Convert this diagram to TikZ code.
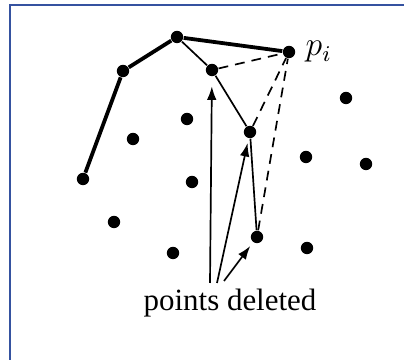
\documentclass[tikz,border=0pt]{standalone}
\usepackage{fontspec}
\setmainfont{Liberation Serif}
\usetikzlibrary{arrows.meta}
\definecolor{framecol}{HTML}{3552A0}
\begin{document}
\begin{tikzpicture}[
    x=0.0125cm, y=-0.0125cm,
    pt/.style={circle, fill=black, inner sep=0pt, minimum size=0.155cm},
    hull/.style={line width=1.35pt},
    thinedge/.style={line width=0.6pt},
    dashedge/.style={line width=0.6pt, dash pattern=on 3.5pt off 2.5pt},
    arr/.style={-{Latex[length=4.8pt,width=3.4pt]}, line width=0.6pt},
    lbl/.style={font=\fontsize{11}{13}\selectfont}
]
\useasboundingbox (0,0) rectangle (404,360);
\draw[framecol, line width=0.8pt] (10,360) -- (10,5) -- (404,5);

% hull chain
\node[pt] (A)  at (83,179)  {};
\node[pt] (B)  at (123,71)  {};
\node[pt] (C)  at (177,37)  {};
\node[pt] (D)  at (212,70)  {};
\node[pt] (E)  at (250,132) {};
\node[pt] (F)  at (257,237) {};
\node[pt] (P)  at (289,52)  {};
\node[lbl, anchor=west, font=\fontsize{12}{14}\selectfont] (Plbl) at (P.east) {$p_i$};

% other points
\node[pt] (q1) at (187,119) {};
\node[pt] (q2) at (133,139) {};
\node[pt] (q3) at (192,182) {};
\node[pt] (q4) at (114,222) {};
\node[pt] (q5) at (173,253) {};
\node[pt] (q6) at (346,98)  {};
\node[pt] (q7) at (306,157) {};
\node[pt] (q8) at (366,164) {};
\node[pt] (q9) at (307,248) {};

\draw[hull] (A) -- (B) -- (C) -- (P);
\draw[thinedge] (C) -- (D) -- (E) -- (F);
\draw[dashedge] (D) -- (P);
\draw[dashedge] (E) -- (P);
\draw[dashedge] (F) -- (P);

% label and arrows
\node[lbl] (del) at (230,303) {points deleted};
\coordinate (a1) at (210,283);
\coordinate (a2) at (217,283);
\coordinate (a3) at (224,281);
\draw[arr, shorten >=3.4pt] (a1) -- (D);
\draw[arr, shorten >=1.6pt] (a2) -- (E);
\draw[arr, shorten >=1.6pt] (a3) -- (F);
\end{tikzpicture}
\end{document}
